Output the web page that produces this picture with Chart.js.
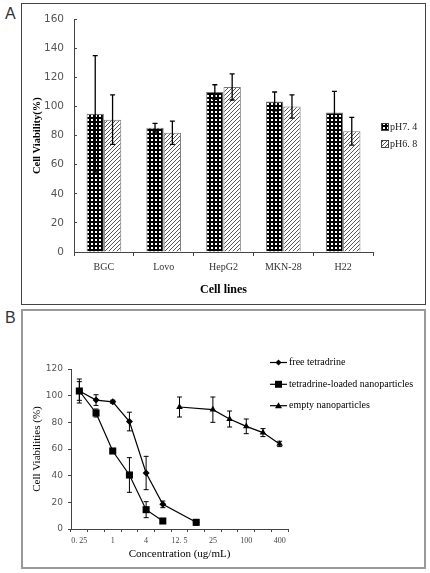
<!DOCTYPE html>
<html>
<head>
<meta charset="utf-8">
<script src="https://cdn.jsdelivr.net/npm/chart.js@4.4.1/dist/chart.umd.min.js"></script>
<style>
body { margin: 0; background: #fff; width: 430px; height: 573px; position: relative; overflow: hidden; }
.box { position: absolute; left: 21px; }
#boxA { top: 3px; width: 403px; height: 300px; border: 1px solid #444; }
#boxB { top: 309px; width: 401px; height: 256px; border: 2px solid #999; }
.tag { position: absolute; left: 5px; font: 16px "Liberation Sans", sans-serif; color: #333; line-height: 16px; }
canvas { position: absolute; left: 0; }
</style>
</head>
<body>
<div class="box" id="boxA"></div>
<div class="box" id="boxB"></div>
<div class="tag" style="top:6px">A</div>
<div class="tag" style="top:310px">B</div>
<canvas id="chartA" width="430" height="307" style="top:0;width:430px;height:307px"></canvas>
<canvas id="chartB" width="430" height="266" style="top:307px;width:430px;height:266px"></canvas>
<script>
// panel A - viability at two pH values
const cellLines = ['BGC', 'Lovo', 'HepG2', 'MKN-28', 'H22'];
const ph74 = [95, 85.5, 110, 103.5, 96];
const ph74Err = [40, 3, 5, 6.5, 14.5];
const ph68 = [91, 82, 113.5, 100, 83];
const ph68Err = [17, 8, 9, 8, 9.5];

// panel B - viability vs concentration
const concentrations = [0.25, 0.5, 1, 2, 4, 8, 12.5, 16, 25, 50, 100, 200, 400];
const concTicks = ['0. 25', '', '1', '', '4', '', '12. 5', '', '25', '', '100', '', '400'];
const freeTet = [103.5, 96.7, 95.4, 80.6, 42, 18.5, null, 5, null, null, null, null, null];
const freeTetErr = [9, 4, 1.2, 7, 12.5, 2.5, null, 2, null, null, null, null, null];
const loadedNP = [103.5, 87, 58.5, 40.5, 14.5, 6, null, 5, null, null, null, null, null];
const loadedNPErr = [7, 3, 1.5, 13, 6, 1, null, 1.5, null, null, null, null, null];
const emptyNP = [null, null, null, null, null, null, 91.5, null, 89.5, 82.5, 77, 72.3, 63.8];
const emptyNPErr = [null, null, null, null, null, null, 7.5, null, 9.5, 6, 5.5, 3, 2];

const serif = '"Liberation Serif", "Times New Roman", serif';

function makeTile(kind) {
    const c = document.createElement('canvas');
    const g = c.getContext('2d');
    if (kind === 'dots') {
        // black crosses with small white squares between them
        c.width = 4; c.height = 4;
        g.fillStyle = '#fff'; g.fillRect(0, 0, 4, 4);
        g.fillStyle = '#000';
        g.fillRect(1, 0, 2, 4);
        g.fillRect(0, 1, 4, 2);
    } else {
        c.width = 4; c.height = 4;
        g.fillStyle = '#fff'; g.fillRect(0, 0, 4, 4);
        g.fillStyle = '#555';
        for (let i = 0; i < 4; i++) g.fillRect(3 - i, i, 1, 1);
    }
    return c;
}

const ctxA = document.getElementById('chartA').getContext('2d');
const dotFill = ctxA.createPattern(makeTile('dots'), 'repeat');
const hatchFill = ctxA.createPattern(makeTile('hatch'), 'repeat');

const errorBars = {
    id: 'errorBars',
    afterDatasetsDraw(chart) {
        const ctx = chart.ctx;
        const y = chart.scales.y;
        chart.data.datasets.forEach((ds, i) => {
            if (!ds.errors) return;
            const meta = chart.getDatasetMeta(i);
            ctx.save();
            ctx.strokeStyle = '#000';
            ctx.lineWidth = ds.errWidth;
            meta.data.forEach((pt, j) => {
                const v = ds.data[j], e = ds.errors[j];
                if (v == null || e == null) return;
                const top = y.getPixelForValue(v + e);
                const bot = y.getPixelForValue(v - e);
                const cap = ds.capSize;
                ctx.beginPath();
                ctx.moveTo(pt.x, top); ctx.lineTo(pt.x, bot);
                ctx.moveTo(pt.x - cap, top); ctx.lineTo(pt.x + cap, top);
                ctx.moveTo(pt.x - cap, bot); ctx.lineTo(pt.x + cap, bot);
                ctx.stroke();
            });
            ctx.restore();
        });
    }
};

const legendA = {
    id: 'legendA',
    afterDraw(chart) {
        const ctx = chart.ctx;
        const rows = [[dotFill, 'pH7. 4', 127], [hatchFill, 'pH6. 8', 144]];
        ctx.save();
        ctx.font = '10px ' + serif;
        ctx.textBaseline = 'middle';
        rows.forEach(([fill, text, y]) => {
            ctx.fillStyle = fill;
            ctx.fillRect(382, y - 3, 6, 6);
            ctx.strokeStyle = '#444';
            ctx.lineWidth = 1;
            ctx.strokeRect(381.5, y - 3.5, 7, 7);
            ctx.fillStyle = '#222';
            ctx.fillText(text, 390, y);
        });
        ctx.restore();
    }
};

new Chart(ctxA, {
    type: 'bar',
    data: {
        labels: cellLines,
        datasets: [
            { label: 'pH7. 4', data: ph74, errors: ph74Err, errWidth: 1.3, capSize: 2.5,
              backgroundColor: dotFill, borderColor: '#777', borderWidth: 1,
              categoryPercentage: 0.58, barPercentage: 1 },
            { label: 'pH6. 8', data: ph68, errors: ph68Err, errWidth: 1.3, capSize: 2.5,
              backgroundColor: hatchFill, borderColor: '#777', borderWidth: 1,
              categoryPercentage: 0.58, barPercentage: 1 }
        ]
    },
    options: {
        responsive: false,
        animation: false,
        layout: { padding: { top: 17, right: 57, left: 0, bottom: 0 } },
        plugins: { legend: { display: false }, tooltip: { enabled: false } },
        scales: {
            x: {
                grid: { offset: true, drawOnChartArea: false, tickLength: 4, color: '#444' },
                border: { color: '#444' },
                ticks: { font: { family: serif, size: 10 }, color: '#333', padding: 5 },
                title: { display: true, text: 'Cell lines', font: { family: serif, size: 12, weight: 'bold' },
                         color: '#000', padding: { bottom: 10 } },
                afterFit(scale) { scale.height = 55; }
            },
            y: {
                min: 0, max: 160,
                grid: { drawOnChartArea: false, tickLength: -3, color: '#444' },
                border: { color: '#444' },
                ticks: { stepSize: 20, font: { family: '"DejaVu Sans", sans-serif', size: 10.5 }, color: '#555', padding: 13 },
                title: { display: true, text: 'Cell Viability(%)', font: { family: serif, size: 10.5, weight: 'bold' },
                         color: '#000', padding: { top: 31 } },
                afterFit(scale) { scale.width = 74; }
            }
        }
    },
    plugins: [errorBars, legendA]
});

const legendB = {
    id: 'legendB',
    afterDraw(chart) {
        const ctx = chart.ctx;
        const rows = [['rectRot', 'free tetradrine', 55.5], ['rect', 'tetradrine-loaded nanoparticles', 77.3], ['triangle', 'empty nanoparticles', 98.7]];
        ctx.save();
        ctx.font = '10px ' + serif;
        ctx.textBaseline = 'middle';
        rows.forEach(([shape, text, y]) => {
            ctx.strokeStyle = '#000';
            ctx.lineWidth = 1.2;
            ctx.beginPath();
            ctx.moveTo(270, y); ctx.lineTo(287, y);
            ctx.stroke();
            ctx.fillStyle = '#000';
            ctx.beginPath();
            const x = 278.5;
            if (shape === 'rectRot') {
                ctx.moveTo(x, y - 3); ctx.lineTo(x + 3, y); ctx.lineTo(x, y + 3); ctx.lineTo(x - 3, y);
            } else if (shape === 'rect') {
                ctx.rect(x - 3.5, y - 3.5, 7, 7);
            } else {
                ctx.moveTo(x, y - 3.5); ctx.lineTo(x + 3.5, y + 2.5); ctx.lineTo(x - 3.5, y + 2.5);
            }
            ctx.closePath();
            ctx.fill();
            ctx.fillStyle = '#000';
            ctx.fillText(text, 289, y);
        });
        ctx.restore();
    }
};

const lineDs = (label, data, errors, style, radius, spanGaps) => ({
    label, data, errors, errWidth: 1, capSize: 2.5,
    borderColor: '#000', backgroundColor: '#000', borderWidth: 1.2,
    pointStyle: style, pointRadius: radius, pointBorderWidth: 0,
    spanGaps, tension: 0
});

new Chart(document.getElementById('chartB'), {
    type: 'line',
    data: {
        labels: concentrations,
        datasets: [
            lineDs('free tetradrine', freeTet, freeTetErr, 'rectRot', 3.5, true),
            lineDs('tetradrine-loaded nanoparticles', loadedNP, loadedNPErr, 'rect', 5, false),
            lineDs('empty nanoparticles', emptyNP, emptyNPErr, 'triangle', 3.8, true)
        ]
    },
    options: {
        responsive: false,
        animation: false,
        layout: { padding: { top: 62, right: 142, left: 0, bottom: 0 } },
        plugins: { legend: { display: false }, tooltip: { enabled: false } },
        scales: {
            x: {
                offset: true,
                grid: { offset: true, drawOnChartArea: false, tickLength: 3, color: '#444' },
                border: { color: '#444' },
                ticks: { autoSkip: false, maxRotation: 0, font: { family: serif, size: 8 }, color: '#444', padding: 4,
                         callback: (v, i) => concTicks[i] },
                title: { display: true, text: 'Concentration (ug/mL)', font: { family: serif, size: 11 },
                         color: '#000', padding: { bottom: 12 } },
                afterFit(scale) { scale.height = 44; }
            },
            y: {
                min: 0, max: 120,
                grid: { drawOnChartArea: false, tickLength: 3, color: '#444' },
                border: { color: '#444' },
                ticks: { stepSize: 20, font: { family: '"DejaVu Sans", sans-serif', size: 9 }, color: '#555', padding: 5 },
                title: { display: true, text: 'Cell Viabilities (%)', font: { family: serif, size: 11 },
                         color: '#000', padding: { top: 31 } },
                afterFit(scale) { scale.width = 71; }
            }
        }
    },
    plugins: [errorBars, legendB]
});
</script>
</body>
</html>
